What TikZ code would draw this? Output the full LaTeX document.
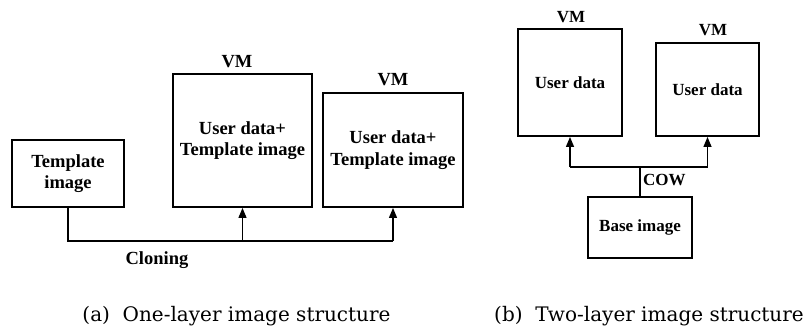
\documentclass[tikz,border=0pt]{standalone}
\usepackage{fontspec}
\setmainfont{Liberation Serif}
\newfontfamily\capfont{DejaVu Serif}
\usetikzlibrary{arrows.meta}
\begin{document}
\begin{tikzpicture}[x=1pt,y=-1pt,
  boxa/.style={draw,line width=1.9pt,align=center,inner sep=0pt,font=\fontsize{18.5}{21.5}\selectfont\bfseries},
  boxb/.style={draw,line width=1.9pt,align=center,inner sep=0pt,font=\fontsize{17}{20}\selectfont\bfseries},
  lbla/.style={inner sep=0pt,font=\fontsize{18.5}{21.5}\selectfont\bfseries},
  lblb/.style={inner sep=0pt,font=\fontsize{17}{20}\selectfont\bfseries},
  conn/.style={line width=1.3pt},
  arr/.style={line width=1.3pt,-{Triangle[width=8pt,length=10pt]}},
  captxt/.style={inner sep=0pt,anchor=base,font=\capfont\fontsize{20}{24}\selectfont}]
\useasboundingbox (0,0) rectangle (809,329);
% (a)
\node[boxa,minimum width=112pt,minimum height=67pt] (tmpl) at (68,173.5) {Template\\image};
\node[boxa,minimum width=139pt,minimum height=133pt] (vm1) at (242.5,140.5) {User data+\\Template image};
\node[boxa,minimum width=140pt,minimum height=114pt] (vm2) at (393,150) {User data+\\Template image};
\node[lbla] (vm1l) at (237,62) {VM};
\node[lbla] (vm2l) at (393,80) {VM};
\coordinate (ca) at (68,241);
\coordinate (cb) at (242.5,241);
\coordinate (cc) at (393,241);
\draw[conn] (tmpl.south) -- (ca) -- (cc);
\draw[arr] (cb) -- (vm1.south);
\draw[arr] (cc) -- (vm2.south);
\node[lbla] (clon) at (157,260) {Cloning};
% (b)
\node[boxb,minimum width=104pt,minimum height=107pt] (vma) at (570,82.5) {User data};
\node[boxb,minimum width=103pt,minimum height=93pt] (vmb) at (707.5,89.5) {User data};
\node[lblb] (vmal) at (571,17) {VM};
\node[lblb] (vmbl) at (713,30) {VM};
\node[boxb,minimum width=104pt,minimum height=61pt] (base) at (640,227.5) {Base image};
\coordinate (cm) at (640,167);
\coordinate (cl) at (570,167);
\coordinate (cr) at (707.5,167);
\draw[conn] (base.north) -- (cm);
\draw[conn] (cl) -- (cr);
\draw[arr] (cl) -- (vma.south);
\draw[arr] (cr) -- (vmb.south);
\node[lblb,anchor=west] (cow) at (643,180) {COW};
% captions
\node[captxt] (capa) at (236.5,321) {(a)\ \ One-layer image structure};
\node[captxt] (capb) at (649,321) {(b)\ \ Two-layer image structure};
\end{tikzpicture}
\end{document}
